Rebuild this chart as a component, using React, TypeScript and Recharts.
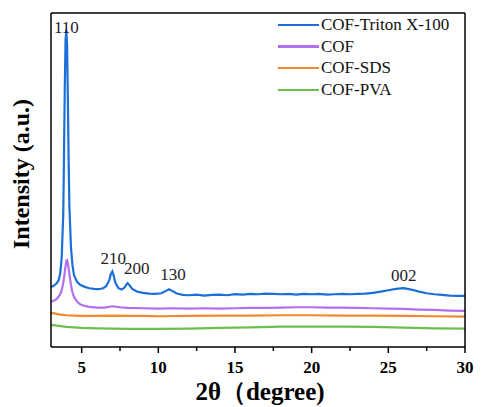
import { LineChart, Line, XAxis, YAxis, Legend, ReferenceDot, Label } from "recharts"

const FONT = "'Liberation Serif', 'Times New Roman', serif"

const seriesNames = ["COF-Triton X-100", "COF", "COF-SDS", "COF-PVA"]
const seriesColors = ["#1a6fd8", "#b46ff0", "#f08a2c", "#6dbf4d"]

// [2θ, intensity] (arbitrary units, stacked offsets kept)
const triton: [number, number][] = [
  [3.0, 18.0], [3.2, 18.4], [3.4, 19.2], [3.5, 20.0], [3.6, 22.0], [3.7, 27.0], [3.8, 40.0],
  [3.85, 58.0], [3.9, 78.0], [3.95, 92.0], [4.0, 95.0], [4.05, 90.0], [4.1, 74.0], [4.15, 56.0],
  [4.2, 42.0], [4.3, 30.0], [4.4, 24.5], [4.5, 21.5], [4.7, 19.5], [4.9, 18.6], [5.2, 18.0],
  [5.5, 17.6], [5.8, 17.4], [6.1, 17.3], [6.4, 17.6], [6.6, 18.2], [6.8, 20.0], [6.9, 21.8],
  [7.0, 22.6], [7.1, 21.2], [7.2, 19.2], [7.4, 17.6], [7.6, 17.2], [7.8, 17.8], [7.9, 18.6],
  [8.0, 19.1], [8.1, 18.6], [8.3, 17.4], [8.6, 16.6], [9.0, 16.2], [9.4, 16.0], [9.8, 15.9],
  [10.2, 16.1], [10.5, 16.8], [10.7, 17.3], [10.9, 16.8], [11.2, 16.0], [11.6, 15.6], [12.0, 15.5],
  [12.5, 15.7], [13.0, 15.4], [13.5, 15.6], [14.0, 15.7], [14.5, 15.5], [15.0, 15.8], [15.5, 15.7],
  [16.0, 15.9], [16.5, 15.8], [17.0, 16.0], [17.5, 15.9], [18.0, 15.8], [18.5, 15.9], [19.0, 15.7],
  [19.5, 15.9], [20.0, 15.8], [20.5, 15.9], [21.0, 15.7], [21.5, 15.8], [22.0, 15.9], [22.5, 15.8],
  [23.0, 15.9], [23.5, 16.0], [24.0, 16.2], [24.5, 16.6], [25.0, 17.0], [25.5, 17.4], [26.0, 17.6],
  [26.5, 17.2], [27.0, 16.6], [27.5, 16.1], [28.0, 15.8], [28.5, 15.6], [29.0, 15.4], [29.5, 15.3],
  [30.0, 15.3],
]

const cof: [number, number][] = [
  [3.0, 13.5], [3.2, 13.9], [3.4, 14.5], [3.6, 15.8], [3.7, 17.0], [3.8, 19.2], [3.9, 22.5],
  [4.0, 25.8], [4.05, 26.0], [4.1, 25.0], [4.2, 21.8], [4.3, 18.6], [4.4, 16.4], [4.5, 15.0],
  [4.7, 13.6], [4.9, 12.8], [5.2, 12.3], [5.5, 12.0], [6.0, 11.8], [6.5, 11.8], [7.0, 12.2],
  [7.5, 11.9], [8.0, 11.7], [9.0, 11.6], [10.0, 11.5], [11.0, 11.6], [12.0, 11.5], [13.0, 11.6],
  [14.0, 11.5], [15.0, 11.6], [16.0, 11.7], [17.0, 11.7], [18.0, 11.8], [19.0, 11.9], [20.0, 11.9],
  [21.0, 11.8], [22.0, 11.8], [23.0, 11.7], [24.0, 11.6], [25.0, 11.5], [26.0, 11.4], [27.0, 11.2],
  [28.0, 11.1], [29.0, 10.9], [30.0, 10.8],
]

const sds: [number, number][] = [
  [3.0, 10.2], [3.3, 10.0], [3.6, 9.7], [4.0, 9.5], [4.5, 9.4], [5.0, 9.3], [6.0, 9.3],
  [7.0, 9.4], [8.0, 9.3], [9.0, 9.3], [10.0, 9.2], [12.0, 9.3], [14.0, 9.4], [16.0, 9.4],
  [18.0, 9.5], [20.0, 9.5], [22.0, 9.4], [24.0, 9.4], [26.0, 9.3], [28.0, 9.2], [30.0, 9.1],
]

const pva: [number, number][] = [
  [3.0, 6.6], [3.5, 6.3], [4.0, 6.0], [5.0, 5.7], [6.0, 5.6], [8.0, 5.4], [10.0, 5.4],
  [12.0, 5.5], [14.0, 5.7], [16.0, 5.9], [18.0, 6.1], [20.0, 6.1], [22.0, 6.1], [24.0, 6.0],
  [26.0, 5.8], [28.0, 5.6], [30.0, 5.5],
]

const seriesData = [triton, cof, sds, pva]

const xTicks = [5, 7.5, 10, 12.5, 15, 17.5, 20, 22.5, 25, 27.5, 30]

const peakLabels = ["110", "210", "200", "130", "002"]
const peakAngles = [4.0, 7.0, 8.0, 10.7, 26.0]
// pixel nudges for the peak labels [dx, gap above peak]
const peakNudge = [[0, -3], [1, 8], [9, 9], [4, 9], [0, 7]]

const toRows = (pts: [number, number][]) => pts.map(([x, y]) => ({ x, y }))

const yAt = (pts: [number, number][], x: number) =>
  pts.reduce((best, p) => (Math.abs(p[0] - x) < Math.abs(best[0] - x) ? p : best))[1]

const serif = { fontFamily: FONT }

function XTick(props: any) {
  const { x, y, payload } = props
  const major = payload.value % 5 === 0
  return (
    <g>
      <line x1={x} x2={x} y1={y} y2={y + (major ? 6 : 4)} stroke="#000" strokeWidth={1.5} />
      {major && (
        <text x={x} y={y + 26} textAnchor="middle" style={serif} fontWeight="bold" fontSize={17} fill="#000">
          {payload.value}
        </text>
      )}
    </g>
  )
}

function LegendBox() {
  return (
    <div style={{ fontFamily: FONT, fontSize: 17, color: "#111" }}>
      {seriesNames.map((name, i) => (
        <div key={name} style={{ display: "flex", alignItems: "center", height: 21.7 }}>
          <span style={{ display: "inline-block", width: 41, height: 2.5, background: seriesColors[i], marginRight: 2 }} />
          <span>{name}</span>
        </div>
      ))}
    </div>
  )
}

export default function App() {
  return (
    <div style={{ position: "absolute", left: 0, top: 0, background: "#fff" }}>
      <LineChart width={481} height={407} margin={{ top: 12, right: 15, left: 50, bottom: 0 }}>
        <XAxis
          type="number"
          dataKey="x"
          domain={[3, 30]}
          ticks={xTicks}
          allowDataOverflow
          tickLine={false}
          tickSize={0}
          tickMargin={0}
          tick={<XTick />}
          interval={0}
          height={60}
          axisLine={{ stroke: "#000", strokeWidth: 1.5 }}
        >
          <Label
            content={() => (
              <text x={260} y={400} textAnchor="middle" style={serif} fontWeight="bold" fontSize={25} fill="#000">
                2θ（degree)
              </text>
            )}
          />
        </XAxis>
        <XAxis
          xAxisId="top"
          orientation="top"
          type="number"
          domain={[3, 30]}
          height={1}
          tick={false}
          tickLine={false}
          axisLine={{ stroke: "#000", strokeWidth: 1.5 }}
        />
        <YAxis
          type="number"
          domain={[0, 100]}
          width={1}
          tick={false}
          tickLine={false}
          allowDataOverflow
          axisLine={{ stroke: "#000", strokeWidth: 1.5 }}
        >
          <Label
            content={() => {
              const cx = 29
              const cy = 174
              return (
                <text
                  x={cx}
                  y={cy}
                  transform={`rotate(-90, ${cx}, ${cy})`}
                  textAnchor="middle"
                  style={serif}
                  fontWeight="bold"
                  fontSize={24}
                  fill="#000"
                >
                  Intensity (a.u.)
                </text>
              )
            }}
          />
        </YAxis>
        <YAxis
          yAxisId="right"
          orientation="right"
          type="number"
          domain={[0, 100]}
          width={1}
          tick={false}
          tickLine={false}
          axisLine={{ stroke: "#000", strokeWidth: 1.5 }}
        />
        {seriesData.map((pts, i) => (
          <Line
            key={seriesNames[i]}
            data={toRows(pts)}
            dataKey="y"
            name={seriesNames[i]}
            type="linear"
            stroke={seriesColors[i]}
            strokeWidth={2.2}
            dot={false}
            isAnimationActive={false}
          />
        ))}
        {peakLabels.map((lab, i) => (
          <ReferenceDot
            key={lab}
            x={peakAngles[i]}
            y={yAt(triton, peakAngles[i])}
            r={0}
            ifOverflow="visible"
            shape={(p: any) => (
              <text
                x={p.cx + peakNudge[i][0]}
                y={p.cy - peakNudge[i][1]}
                textAnchor="middle"
                style={serif}
                fontSize={17}
                fill="#222"
              >
                {lab}
              </text>
            )}
          />
        ))}
        <Legend
          layout="horizontal"
          verticalAlign="middle"
          align="center"
          content={<LegendBox />}
          wrapperStyle={{ top: 14, left: 278, width: "auto" }}
        />
      </LineChart>
    </div>
  )
}
